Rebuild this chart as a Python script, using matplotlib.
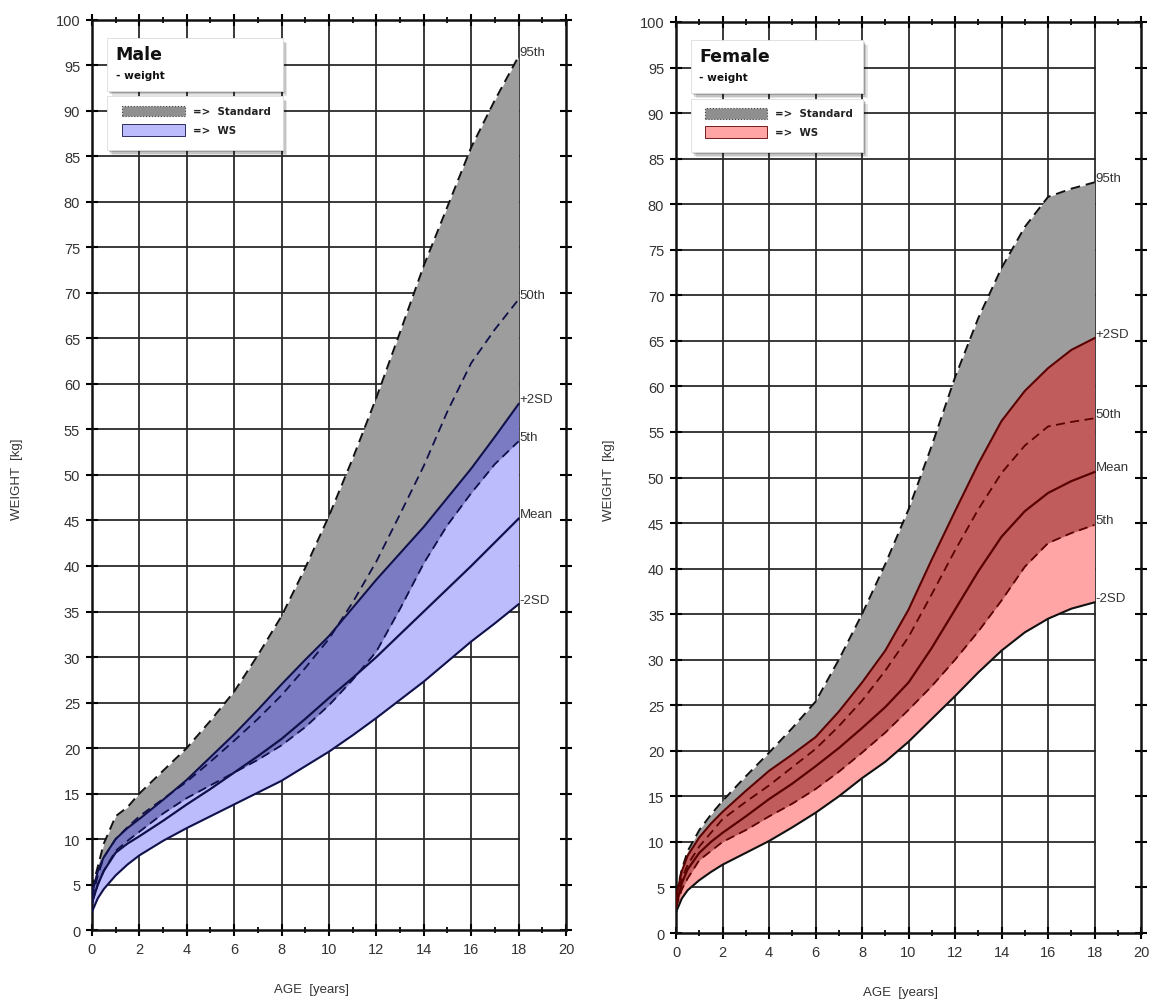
import numpy as np
import matplotlib.pyplot as plt
from matplotlib.patches import Rectangle
from matplotlib.ticker import MultipleLocator

plt.rcParams['font.family'] = ['Liberation Sans', 'DejaVu Sans']

# ages in years
ages = [0, 0.25, 0.5, 1, 1.5, 2, 3, 4, 5, 6, 7, 8, 9, 10, 11, 12, 13, 14, 15, 16, 17, 18]

# male weight curves (kg)
male_p95 = [4.5, 7.0, 9.5, 12.5, 13.5, 15.0, 17.5, 20.0, 23.0, 26.2, 30.2, 34.5, 39.8, 45.5,
            51.8, 58.5, 65.7, 73.0, 79.5, 86.0, 91.2, 96.0]
male_p50 = [3.5, 6.0, 8.0, 10.0, 11.3, 12.5, 14.4, 16.3, 18.5, 20.8, 23.2, 25.8, 28.8, 32.0,
            36.0, 40.5, 45.7, 51.0, 57.0, 62.3, 66.0, 69.3]
male_p5 = [3.0, 5.0, 6.5, 8.7, 9.8, 10.8, 12.8, 14.5, 15.9, 17.3, 18.7, 20.3, 22.3, 24.7,
           27.5, 30.6, 35.3, 40.3, 44.5, 48.0, 51.2, 53.7]
male_plus2sd = [4.0, 6.5, 8.0, 10.0, 11.2, 12.2, 14.3, 16.5, 19.0, 21.5, 24.2, 27.0, 29.7, 32.3,
                35.4, 38.5, 41.4, 44.3, 47.5, 50.7, 54.2, 57.8]
male_mean = [3.0, 5.0, 6.5, 8.5, 9.5, 10.3, 12.0, 13.8, 15.5, 17.3, 19.1, 21.0, 23.2, 25.5,
             27.7, 30.0, 32.5, 35.0, 37.5, 40.0, 42.6, 45.2]
male_minus2sd = [2.0, 3.5, 4.5, 6.0, 7.2, 8.2, 9.8, 11.2, 12.5, 13.8, 15.1, 16.4, 18.0, 19.6,
                 21.4, 23.3, 25.3, 27.3, 29.5, 31.7, 33.7, 35.8]

# female weight curves (kg)
female_p95 = [4.2, 7.0, 9.0, 11.3, 13.0, 14.5, 17.2, 19.8, 22.5, 25.4, 30.0, 35.0, 40.5, 46.5,
              53.5, 61.0, 67.5, 73.0, 77.5, 80.8, 81.7, 82.4]
female_p50 = [3.5, 6.0, 7.5, 9.5, 11.0, 12.5, 14.4, 16.2, 18.2, 20.2, 22.7, 25.5, 28.8, 32.5,
              37.2, 42.0, 46.5, 50.5, 53.5, 55.6, 56.1, 56.5]
female_p5 = [2.8, 4.8, 6.0, 8.0, 9.0, 10.0, 11.3, 12.8, 14.2, 15.8, 17.7, 19.8, 22.0, 24.5,
             27.1, 30.0, 33.1, 36.5, 40.2, 42.8, 43.9, 44.8]
female_plus2sd = [4.0, 6.8, 8.5, 10.5, 12.0, 13.3, 15.6, 17.8, 19.6, 21.5, 24.3, 27.5, 31.0, 35.5,
                  41.0, 46.3, 51.5, 56.2, 59.5, 62.0, 64.0, 65.3]
female_mean = [3.0, 5.5, 7.0, 8.8, 10.0, 11.0, 12.8, 14.7, 16.4, 18.3, 20.3, 22.5, 24.8, 27.5,
               31.3, 35.5, 39.7, 43.5, 46.3, 48.3, 49.6, 50.6]
female_minus2sd = [2.3, 3.8, 4.7, 5.8, 6.7, 7.5, 8.8, 10.1, 11.6, 13.2, 15.0, 17.0, 18.8, 21.0,
                   23.5, 26.0, 28.6, 31.0, 33.0, 34.5, 35.6, 36.3]

GRAY = '#9d9d9d'
TXT = '#333333'


def draw_panel(ax, p95, p50, p5, p2, mean, m2, light, dark, linecol, sex):
    x = np.array(ages)
    p95, p50, p5 = np.array(p95), np.array(p50), np.array(p5)
    p2, mean, m2 = np.array(p2), np.array(mean), np.array(m2)

    ax.set_xlim(0, 20)
    ax.set_ylim(0, 100)

    # grid: horizontal lines stop at 18 years
    for yv in range(5, 100, 5):
        ax.axhline(yv, xmin=0, xmax=0.9, color='#2a2a2a', lw=1.3, zorder=1)
    for xv in range(2, 20, 2):
        ax.axvline(xv, color='#2a2a2a', lw=1.3, zorder=1)

    # standard band and WS band
    ax.fill_between(x, p5, p95, color=GRAY, lw=0, zorder=2)
    ax.fill_between(x, m2, p2, color=light, lw=0, zorder=2)
    lo = np.maximum(p5, m2)
    hi = np.minimum(p2, p95)
    ax.fill_between(x, lo, hi, where=hi > lo, interpolate=True, color=dark, lw=0, zorder=2)

    ax.plot(x, p95, color='#111111', ls=(0, (5, 3)), lw=1.4, zorder=4)
    ax.plot(x, p50, color=linecol, ls=(0, (5, 3)), lw=1.3, zorder=4)
    ax.plot(x, p5, color=linecol, ls=(0, (5, 3)), lw=1.3, zorder=4)
    ax.plot(x, p2, color=linecol, lw=1.5, zorder=4)
    ax.plot(x, mean, color=linecol, lw=1.6, zorder=4)
    ax.plot(x, m2, color='#111111' if sex == 'Female' else linecol, lw=1.5, zorder=4)

    names = ['95th', '50th', '5th', '+2SD', 'Mean', '-2SD']
    for name, c in zip(names, [p95, p50, p5, p2, mean, m2]):
        ax.text(18.05, c[-1] + 0.5, name, fontsize=9.5, color=TXT,
                ha='left', va='center', zorder=6)

    # ticks
    ax.xaxis.set_major_locator(MultipleLocator(2))
    ax.xaxis.set_minor_locator(MultipleLocator(1))
    ax.yaxis.set_major_locator(MultipleLocator(5))
    ax.tick_params(which='major', direction='inout', length=9, width=1.5,
                   top=True, right=True, labelsize=10.5, labelcolor=TXT, pad=4)
    ax.tick_params(which='minor', direction='inout', length=5, width=1.3,
                   top=True, right=False, left=False)
    for s in ax.spines.values():
        s.set_linewidth(1.8)
        s.set_color('#111111')

    ax.set_xlabel('AGE  [years]', fontsize=9.5, color=TXT)
    ax.set_ylabel('WEIGHT  [kg]', fontsize=9.5, color=TXT)

    # legend boxes with drop shadow
    fam = ['DejaVu Sans']
    tr = ax.transAxes
    for (bx, by, bw, bh) in [(0.032, 0.922, 0.37, 0.058), (0.032, 0.857, 0.37, 0.059)]:
        for k, a in enumerate([0.10, 0.14, 0.2]):
            off = 0.010 - k * 0.003
            ax.add_patch(Rectangle((bx + off, by - off * 0.55), bw, bh, transform=tr,
                                   facecolor='#000000', alpha=a, lw=0, zorder=7))
        ax.add_patch(Rectangle((bx, by), bw, bh, transform=tr, facecolor='white',
                               edgecolor='#dddddd', lw=0.6, zorder=8))
    ax.text(0.050, 0.963, sex, transform=tr, fontsize=12.5, fontweight='bold',
            family=fam, color='#111111', va='center', zorder=9)
    ax.text(0.050, 0.940, '- weight', transform=tr, fontsize=7.6, fontweight='bold',
            family=fam, color='#111111', va='center', zorder=9)
    ax.add_patch(Rectangle((0.063, 0.894), 0.133, 0.012, transform=tr, facecolor='#8f8f8f',
                           edgecolor='#444444', lw=0.8, ls=':', zorder=9))
    ax.add_patch(Rectangle((0.063, 0.873), 0.133, 0.013, transform=tr, facecolor=light,
                           edgecolor=linecol, lw=0.6, zorder=9))
    ax.text(0.213, 0.900, '=>  Standard', transform=tr, fontsize=7.4, fontweight='bold',
            family=fam, color='#222222', va='center', zorder=9)
    ax.text(0.213, 0.879, '=>  WS', transform=tr, fontsize=7.4, fontweight='bold',
            family=fam, color='#222222', va='center', zorder=9)


fig = plt.figure(figsize=(11.61, 10.04), dpi=100)
ax1 = fig.add_axes([0.0792, 0.0727, 0.4083, 0.9064])
ax2 = fig.add_axes([0.5823, 0.0697, 0.4005, 0.9074])

draw_panel(ax1, male_p95, male_p50, male_p5, male_plus2sd, male_mean, male_minus2sd,
           '#bcbcfd', '#7b7bc4', '#10104a', 'Male')
draw_panel(ax2, female_p95, female_p50, female_p5, female_plus2sd, female_mean, female_minus2sd,
           '#ffa5a5', '#c05c5c', '#5a0000', 'Female')

ax1.xaxis.set_label_coords(0.464, -0.058)
ax2.xaxis.set_label_coords(0.482, -0.058)
ax1.yaxis.set_label_coords(-0.146, 0.496)
ax2.yaxis.set_label_coords(-0.131, 0.498)

fig.savefig('out.png', dpi=100)
